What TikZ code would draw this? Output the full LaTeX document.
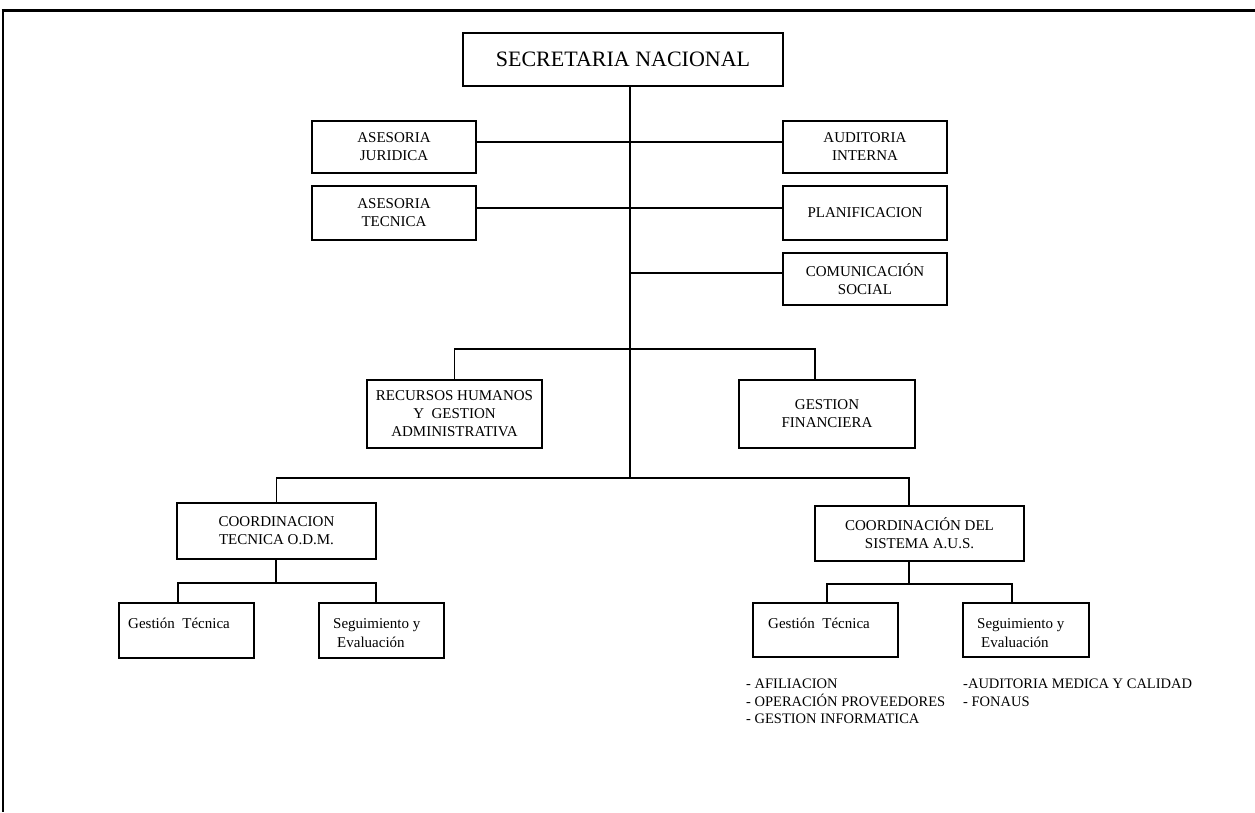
\documentclass[tikz,border=0pt]{standalone}
\usepackage{fontspec}
\setmainfont{Liberation Serif}
\begin{document}
\begin{tikzpicture}[x=1pt,y=-1pt,
  box/.style={draw, line width=1.4pt, inner sep=0pt, align=center, font=\fontsize{15}{18}\selectfont},
  lbl/.style={inner sep=0pt, anchor=base west, font=\fontsize{15}{18}\selectfont},
  conn/.style={line width=1.4pt}]
\useasboundingbox (0,0) rectangle (1255,812);
% frame
\draw[line width=3pt] (1.5,10) -- (1255,10);
\draw[line width=2pt] (3,9) -- (3,812);
% boxes
\node[box, minimum width=320pt, minimum height=53pt, font=\fontsize{22}{24}\selectfont] (sec) at (623,59.5) {SECRETARIA NACIONAL};
\node[box, minimum width=164pt, minimum height=52pt] (aj) at (394,147) {ASESORIA\\JURIDICA};
\node[box, minimum width=164pt, minimum height=52pt] (ai) at (865,147) {AUDITORIA\\INTERNA};
\node[box, minimum width=164pt, minimum height=54pt] (at) at (394,213) {ASESORIA\\TECNICA};
\node[box, minimum width=164pt, minimum height=54pt] (pl) at (865,213) {PLANIFICACION};
\node[box, minimum width=164pt, minimum height=52pt] (cs) at (865,279) {COMUNICACIÓN\\SOCIAL};
\node[box, minimum width=175pt, minimum height=68pt] (rh) at (454.5,414) {RECURSOS HUMANOS\\Y\ \ GESTION\\ADMINISTRATIVA};
\node[box, minimum width=176pt, minimum height=68pt] (gf) at (827,414) {GESTION\\FINANCIERA};
\node[box, minimum width=199pt, minimum height=56pt] (ct) at (276.5,531) {COORDINACION\\TECNICA O.D.M.};
\node[box, minimum width=209pt, minimum height=55pt] (cas) at (919.5,533.5) {COORDINACIÓN DEL\\SISTEMA A.U.S.};
\node[box, minimum width=135pt, minimum height=55pt] (gtL) at (186.5,630.5) {};
\node[box, minimum width=125pt, minimum height=55pt] (sgL) at (381.5,630.5) {};
\node[box, minimum width=145pt, minimum height=54pt] (gtR) at (825.5,630) {};
\node[box, minimum width=126pt, minimum height=54pt] (sgR) at (1026,630) {};
% texts inside lower boxes
\node[lbl] (gtLt) at (128,628) {Gestión\ \ Técnica};
\node[lbl] (sgLt1) at (333,628) {Seguimiento y};
\node[lbl] (sgLt2) at (337,647) {Evaluación};
\node[lbl] (gtRt) at (768,628) {Gestión\ \ Técnica};
\node[lbl] (sgRt1) at (977,628) {Seguimiento y};
\node[lbl] (sgRt2) at (981,647) {Evaluación};
% lists
\node[lbl, font=\fontsize{14.5}{18}\selectfont] (l1) at (746,688) {- AFILIACION};
\node[lbl, font=\fontsize{14.5}{18}\selectfont] (l2) at (746,706) {- OPERACIÓN PROVEEDORES};
\node[lbl, font=\fontsize{14.5}{18}\selectfont] (l3) at (746,723.5) {- GESTION INFORMATICA};
\node[lbl, font=\fontsize{14.5}{18}\selectfont] (r1) at (963,688) {-AUDITORIA MEDICA Y CALIDAD};
\node[lbl, font=\fontsize{14.5}{18}\selectfont] (r2) at (963,706) {- FONAUS};
% coordinates
\coordinate (tb) at (630,478);
\coordinate (hb) at (630,349);
\coordinate (jl) at (276,583);
\coordinate (jr) at (909,584);
% connectors
\draw[conn] (sec.south -| tb) -- (tb);
\draw[conn] ([yshift=5pt]aj.east) -- ([yshift=5pt]aj.east -| ai.west);
\draw[conn] ([yshift=5pt]at.east) -- ([yshift=5pt]at.east -| pl.west);
\draw[conn] ([yshift=6pt]cs.west -| tb) -- ([yshift=6pt]cs.west);
\draw[conn] (rh.north) |- (hb) -| ([xshift=-12pt]gf.north);
\draw[conn] (ct.north) |- (tb) -| ([xshift=-10.5pt]cas.north);
\draw[conn] (ct.south -| jl) -- (jl);
\draw[conn] ([xshift=-8.5pt]gtL.north) |- (jl) -| ([xshift=-5.5pt]sgL.north);
\draw[conn] ([xshift=-10.5pt]cas.south) -- (jr);
\draw[conn] ([xshift=1.5pt]gtR.north) |- (jr) -| ([xshift=-14pt]sgR.north);
\end{tikzpicture}
\end{document}
